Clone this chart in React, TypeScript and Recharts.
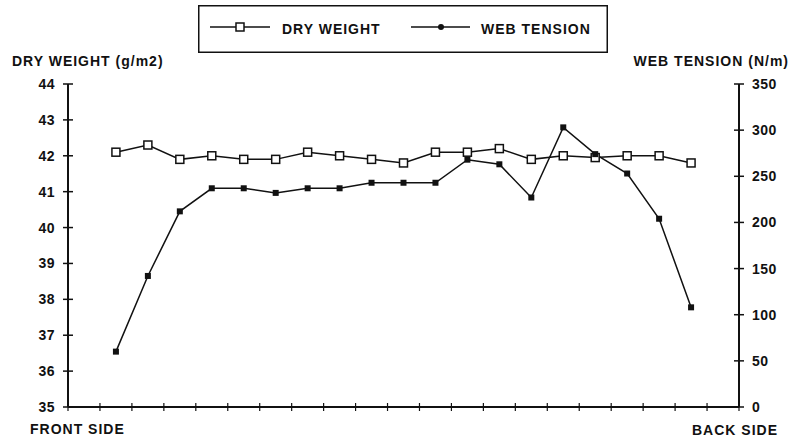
import { LineChart, Line, XAxis, YAxis, Legend } from "recharts";

// positions across the web, front side to back side
const samples = [1, 2, 3, 4, 5, 6, 7, 8, 9, 10, 11, 12, 13, 14, 15, 16, 17, 18, 19];
const dryWeight = [
  42.1, 42.3, 41.9, 42.0, 41.9, 41.9, 42.1, 42.0, 41.9, 41.8, 42.1, 42.1, 42.2, 41.9, 42.0, 41.95, 42.0, 42.0, 41.8,
];
const webTension = [60, 142, 212, 237, 237, 232, 237, 237, 243, 243, 243, 268, 263, 227, 303, 274, 253, 204, 108];

const xTicks = [
  -0.5, 0.5, 1.5, 2.5, 3.5, 4.5, 5.5, 6.5, 7.5, 8.5, 9.5, 10.5, 11.5, 12.5, 13.5, 14.5, 15.5, 16.5, 17.5, 18.5, 19.5,
  20.5,
];
const dryTicks = [35, 36, 37, 38, 39, 40, 41, 42, 43, 44];
const tensionTicks = [0, 50, 100, 150, 200, 250, 300, 350];

const seriesNames = ["DRY WEIGHT", "WEB TENSION"];
const axisTitles = ["DRY WEIGHT (g/m2)", "WEB TENSION (N/m)"];
const sideLabels = ["FRONT SIDE", "BACK SIDE"];

const data = samples.map((s, i) => ({
  pos: s,
  dry: dryWeight[i],
  tension: webTension[i],
}));

const FONT = "'Liberation Sans', Arial, sans-serif";
const textStyle = { fontFamily: FONT, fontSize: 14, fontWeight: 700, letterSpacing: 1, fill: "#111" };

const LeftTick = (props: any) => {
  const { x, y, payload } = props;
  return (
    <g>
      <line x1={x - 5} x2={x + 5} y1={y} y2={y} stroke="#111" strokeWidth={1.5} />
      <text x={x - 13} y={y} dy={5} textAnchor="end" style={{ ...textStyle, letterSpacing: 0.5 }}>
        {payload.value}
      </text>
    </g>
  );
};

const RightTick = (props: any) => {
  const { x, y, payload } = props;
  return (
    <g>
      <line x1={x - 5} x2={x + 5} y1={y} y2={y} stroke="#111" strokeWidth={1.5} />
      <text x={x + 13} y={y} dy={5} textAnchor="start" style={{ ...textStyle, letterSpacing: 0.5 }}>
        {payload.value}
      </text>
    </g>
  );
};

const BottomTick = (props: any) => {
  const { x, y } = props;
  return <line x1={x} x2={x} y1={y - 4} y2={y + 4} stroke="#111" strokeWidth={1.2} />;
};

const OpenSquare = (props: any) => {
  const { cx, cy } = props;
  return <rect x={cx - 4} y={cy - 4} width={8} height={8} fill="#fff" stroke="#111" strokeWidth={1.5} />;
};

const FilledSquare = (props: any) => {
  const { cx, cy } = props;
  return <rect x={cx - 3} y={cy - 3} width={6} height={6} fill="#111" />;
};

const LegendBox = () => (
  <svg width={410} height={48} style={{ display: "block" }}>
    <rect x={0.75} y={0.75} width={408.5} height={46.5} fill="#fff" stroke="#111" strokeWidth={1.5} />
    <line x1={12} x2={72} y1={22} y2={22} stroke="#111" strokeWidth={1.5} />
    <rect x={38} y={18} width={8} height={8} fill="#fff" stroke="#111" strokeWidth={1.5} />
    <text x={84} y={29} style={textStyle}>
      {seriesNames[0]}
    </text>
    <line x1={213} x2={272} y1={22} y2={22} stroke="#111" strokeWidth={1.5} />
    <circle cx={243} cy={22} r={3} fill="#111" />
    <text x={283} y={29} style={textStyle}>
      {seriesNames[1]}
    </text>
  </svg>
);

export default function App() {
  return (
    <div style={{ position: "absolute", left: 0, top: 0, background: "#fff" }}>
      <LineChart width={791} height={441} data={data} margin={{ top: 84, right: 0, bottom: 4, left: 0 }}>
        <XAxis
          dataKey="pos"
          type="number"
          domain={[-0.5, 20.5]}
          ticks={xTicks}
          height={30}
          tickSize={0}
          tickMargin={0}
          tickLine={false}
          tick={<BottomTick />}
          axisLine={{ stroke: "#111", strokeWidth: 2 }}
          interval={0}
          allowDataOverflow
        />
        <YAxis
          yAxisId="left"
          orientation="left"
          width={68}
          domain={[35, 44]}
          ticks={dryTicks}
          tickSize={0}
          tickMargin={0}
          tickLine={false}
          tick={<LeftTick />}
          axisLine={{ stroke: "#111", strokeWidth: 2 }}
          interval={0}
        />
        <YAxis
          yAxisId="right"
          orientation="right"
          width={52}
          domain={[0, 350]}
          ticks={tensionTicks}
          tickSize={0}
          tickMargin={0}
          tickLine={false}
          tick={<RightTick />}
          axisLine={{ stroke: "#111", strokeWidth: 2 }}
          interval={0}
        />
        <Legend
          layout="vertical"
          align="center"
          verticalAlign="middle"
          wrapperStyle={{ top: 5, left: 198, width: 410, height: 48 }}
          content={<LegendBox />}
        />
        <Line
          yAxisId="left"
          dataKey="dry"
          name={seriesNames[0]}
          type="linear"
          stroke="#111"
          strokeWidth={1.5}
          dot={<OpenSquare />}
          isAnimationActive={false}
        />
        <Line
          yAxisId="right"
          dataKey="tension"
          name={seriesNames[1]}
          type="linear"
          stroke="#111"
          strokeWidth={1.5}
          dot={<FilledSquare />}
          isAnimationActive={false}
        />
        <text x={12} y={66} style={textStyle}>
          {axisTitles[0]}
        </text>
        <text x={789} y={66} textAnchor="end" style={textStyle}>
          {axisTitles[1]}
        </text>
        <text x={30} y={434} style={textStyle}>
          {sideLabels[0]}
        </text>
        <text x={778} y={435} textAnchor="end" style={textStyle}>
          {sideLabels[1]}
        </text>
      </LineChart>
    </div>
  );
}
